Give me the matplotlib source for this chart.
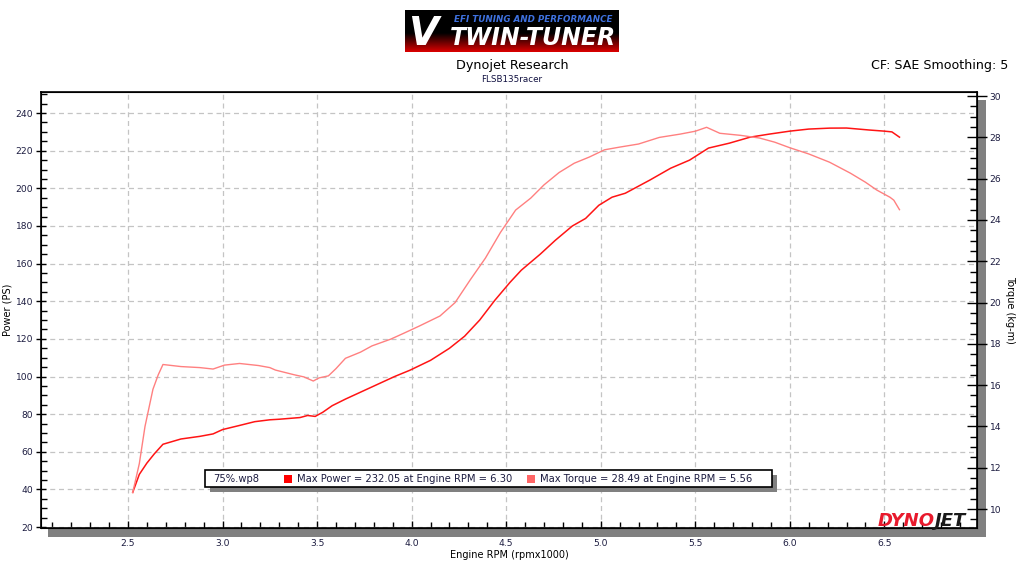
import numpy as np
import matplotlib
matplotlib.use('Agg')
import matplotlib.pyplot as plt
from matplotlib.patches import Rectangle
from matplotlib.ticker import MultipleLocator

# power curve (PS) vs engine rpm (x1000)
power_rpm = [2.525, 2.56, 2.60, 2.64, 2.685, 2.78, 2.88, 2.95, 3.0, 3.09, 3.17, 3.25,
             3.30, 3.41, 3.45, 3.49, 3.53, 3.58, 3.65, 3.78, 3.91, 3.99, 4.10, 4.20,
             4.28, 4.36, 4.44, 4.52, 4.58, 4.68, 4.76, 4.85, 4.92, 4.99, 5.06, 5.13,
             5.26, 5.37, 5.47, 5.57, 5.68, 5.79, 5.89, 6.0, 6.10, 6.21, 6.30, 6.42,
             6.50, 6.54, 6.58]
power_ps = [38.4, 48.0, 54.0, 59.0, 64.0, 66.8, 68.2, 69.5, 71.8, 74.0, 76.0, 77.0,
            77.3, 78.2, 79.3, 78.8, 81.0, 84.5, 88.0, 94.0, 100.0, 103.3, 108.6, 115.0,
            121.4, 130.0, 140.5, 150.0, 156.5, 165.0, 172.4, 180.0, 184.0, 191.0, 195.3, 197.4,
            204.4, 210.7, 215.0, 221.4, 224.0, 227.2, 228.8, 230.4, 231.5, 232.0, 232.05, 231.0,
            230.4, 230.0, 227.2]

# torque curve (kg-m)
torque_rpm = [2.525, 2.56, 2.59, 2.632, 2.66, 2.685, 2.78, 2.88, 2.95, 3.01, 3.09, 3.19,
              3.25, 3.28, 3.38, 3.43, 3.48, 3.51, 3.56, 3.60, 3.65, 3.73, 3.79, 3.89,
              3.96, 4.04, 4.15, 4.23, 4.31, 4.39, 4.47, 4.55, 4.63, 4.70, 4.78, 4.86,
              4.94, 5.02, 5.10, 5.20, 5.31, 5.42, 5.50, 5.56, 5.63, 5.74, 5.84, 5.92,
              6.0, 6.10, 6.21, 6.32, 6.40, 6.46, 6.53, 6.55, 6.58]
torque_kgm = [10.8, 12.2, 14.0, 15.8, 16.5, 17.0, 16.9, 16.85, 16.78, 16.97, 17.05, 16.95,
              16.85, 16.73, 16.5, 16.4, 16.2, 16.35, 16.45, 16.8, 17.3, 17.6, 17.9, 18.23,
              18.52, 18.86, 19.35, 20.0, 21.1, 22.15, 23.4, 24.48, 25.06, 25.7, 26.3, 26.75,
              27.05, 27.4, 27.53, 27.68, 28.0, 28.16, 28.3, 28.49, 28.2, 28.1, 27.97, 27.77,
              27.5, 27.2, 26.8, 26.27, 25.83, 25.45, 25.1, 24.96, 24.5]

max_power_text = "Max Power = 232.05 at Engine RPM = 6.30"
max_torque_text = "Max Torque = 28.49 at Engine RPM = 5.56"
run_name = "75%.wp8"

power_color = '#ff1414'
torque_color = '#ff8080'
label_color = '#1c1c40'

plt.rcParams['font.family'] = ['DejaVu Sans']

fig = plt.figure(figsize=(10.24, 5.76), dpi=100)
W, H = 1024, 576

def fx(px):
    return px / W

def fy(py):
    return 1 - py / H

# plot shadow
fig.patches.append(Rectangle((fx(48), fy(537)), fx(938), 437 / H, transform=fig.transFigure,
                             facecolor='#808080', edgecolor='none', zorder=0))

ax = fig.add_axes([fx(41), fy(528), fx(936), 436 / H])
ax.set_facecolor('white')
ax.set_zorder(1)
ax.set_xlim(2.04, 6.99)
ax.set_ylim(19.5, 251.2)
ax.xaxis.set_major_locator(MultipleLocator(0.5))
ax.xaxis.set_minor_locator(MultipleLocator(0.1))
ax.yaxis.set_major_locator(MultipleLocator(20))
ax.yaxis.set_minor_locator(MultipleLocator(5))
ax.grid(True, which='major', linestyle=(0, (4, 3)), color='#c4c4c4', linewidth=0.9)
ax.tick_params(axis='both', which='major', direction='inout', length=7, width=1,
               labelsize=6.6, labelcolor=label_color, pad=2)
ax.tick_params(axis='both', which='minor', direction='in', length=4, width=1)
ax.tick_params(axis='x', which='major', direction='in', length=5, pad=8)
for s in ax.spines.values():
    s.set_linewidth(1.2)
ax.plot(power_rpm, power_ps, color=power_color, linewidth=1.1)
ax.set_ylabel('Power (PS)', fontsize=7, color='black', va='center')
ax.yaxis.set_label_coords(-0.036, 0.5)
ax.set_xlabel('Engine RPM (rpmx1000)', fontsize=7, color='black')
ax.xaxis.set_label_coords(0.5, -0.05)

ax2 = ax.twinx()
ax2.set_ylim(9.08, 30.2)
ax2.yaxis.set_major_locator(MultipleLocator(2))
ax2.yaxis.set_minor_locator(MultipleLocator(0.5))
ax2.tick_params(axis='y', which='major', direction='inout', length=14, width=1,
                labelsize=6.6, labelcolor=label_color, pad=2)
ax2.tick_params(axis='y', which='minor', direction='in', length=5, width=1)
ax2.plot(torque_rpm, torque_kgm, color=torque_color, linewidth=1.0)
ax2.set_ylabel('Torque (kg-m)', fontsize=7, color='black', rotation=-90, va='center')
ax2.yaxis.set_label_coords(1.035, 0.5)

# legend box
lx0, lx1, ly0, ly1 = fx(205), fx(772), fy(487), fy(470)
fig.patches.append(Rectangle((lx0 + fx(5), ly0 - 5 / H), lx1 - lx0, ly1 - ly0,
                             transform=fig.transFigure, facecolor='#808080',
                             edgecolor='none', zorder=5))
fig.patches.append(Rectangle((lx0, ly0), lx1 - lx0, ly1 - ly0, transform=fig.transFigure,
                             facecolor='white', edgecolor='black', linewidth=1.2, zorder=6))
ty = fy(478.5)
fig.text(fx(213), ty, run_name, fontsize=7.2, va='center', color=label_color, zorder=7)
fig.patches.append(Rectangle((fx(284), fy(483)), fx(8), 8 / H, transform=fig.transFigure,
                             facecolor='#ff0000', edgecolor='none', zorder=7))
fig.text(fx(297), ty, max_power_text, fontsize=7.2, va='center', color=label_color, zorder=7)
fig.patches.append(Rectangle((fx(527), fy(483)), fx(8), 8 / H, transform=fig.transFigure,
                             facecolor='#ff6666', edgecolor='none', zorder=7))
fig.text(fx(540), ty, max_torque_text, fontsize=7.2, va='center', color=label_color, zorder=7)

# DYNOJET mark
fig.text(fx(935), fy(521), 'DYNO', fontsize=13, fontweight='bold', fontstyle='italic',
         color='#e8192c', ha='right', va='center', zorder=8)
fig.text(fx(935), fy(521), 'JET', fontsize=13, fontweight='bold', fontstyle='italic',
         color='#1a1a1a', ha='left', va='center', zorder=8)

# header logo
logo = fig.add_axes([fx(405), fy(52), fx(214), 42 / H])
grad = np.linspace(0, 1, 50).reshape(-1, 1)
grad = np.clip((grad - 0.55) / 0.45, 0, 1)
img = np.zeros((50, 1, 3))
img[:, 0, 0] = grad[:, 0] * 0.85
logo.imshow(img, aspect='auto', extent=[0, 1, 0, 1], origin='upper')
logo.set_xlim(0, 1)
logo.set_ylim(0, 1)
logo.axis('off')
logo.text(0.6, 0.78, 'EFI TUNING AND PERFORMANCE', fontsize=6.3, fontweight='bold',
          fontstyle='italic', color='#3f72e0', ha='center', va='center')
logo.text(0.085, 0.42, 'V', fontsize=28, fontweight='bold', fontstyle='italic',
          color='white', ha='center', va='center')
logo.text(0.6, 0.33, 'TWIN-TUNER', fontsize=17, fontweight='bold', fontstyle='italic',
          color='white', ha='center', va='center')

fig.text(fx(512), fy(66), 'Dynojet Research', fontsize=9.2, ha='center', va='center',
         color='black')
fig.text(fx(512), fy(80), 'FLSB135racer', fontsize=6.3, ha='center', va='center',
         color='#101040')
fig.text(fx(1008), fy(66), 'CF: SAE Smoothing: 5', fontsize=9.1, ha='right', va='center',
         color='black')

fig.savefig('out.png', dpi=100, facecolor='white')
